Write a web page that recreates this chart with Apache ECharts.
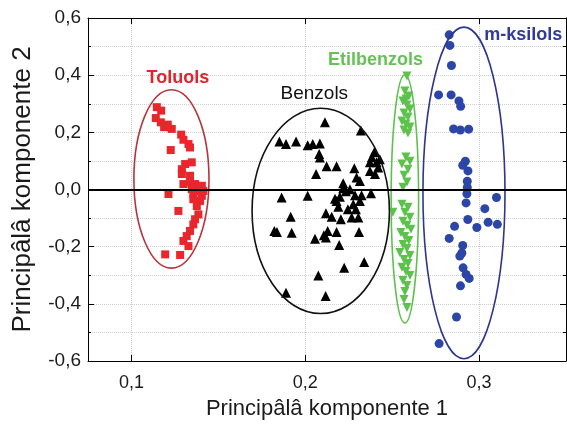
<!DOCTYPE html>
<html>
<head>
<meta charset="utf-8">
<script src="https://cdn.jsdelivr.net/npm/echarts@6/dist/echarts.min.js"></script>
<style>
html,body{margin:0;padding:0;background:#fff;}
#chart{width:567px;height:426px;}
</style>
</head>
<body>
<div id="chart"></div>
<script>
// ---- data ----
const xTicks = [0.1, 0.2, 0.3];
const toluols = [
  [0.1146,0.288],[0.1171,0.276],[0.1140,0.250],[0.1169,0.235],[0.1188,0.218],[0.1209,0.227],
  [0.1232,0.212],[0.1286,0.192],[0.1299,0.174],[0.1328,0.159],[0.1226,0.138],[0.1337,0.147],
  [0.1309,0.089],[0.1347,0.095],[0.1290,0.071],[0.1290,0.054],[0.1337,0.048],[0.1299,0.019],
  [0.1337,0.025],[0.1366,0.019],[0.1405,0.013],[0.1347,0.001],[0.1376,-0.005],[0.1414,-0.005],
  [0.1356,-0.016],[0.1405,-0.022],[0.1356,-0.034],[0.1395,-0.040],[0.1213,-0.016],[0.1376,-0.058],
  [0.1270,-0.075],[0.1385,-0.087],[0.1366,-0.104],[0.1356,-0.122],[0.1337,-0.145],[0.1318,-0.163],
  [0.1299,-0.180],[0.1328,-0.198],[0.1194,-0.227],[0.1280,-0.229]
];
const benzols = [
  [0.2113,0.235],[0.2320,0.206],[0.1851,0.168],[0.1889,0.159],[0.1947,0.168],[0.2014,0.155],
  [0.2043,0.159],[0.2084,0.161],[0.2080,0.124],[0.2084,0.112],[0.2397,0.130],[0.2372,0.095],
  [0.2410,0.095],[0.2372,0.065],[0.2420,0.077],[0.2401,0.054],[0.2429,0.106],[0.2383,0.113],
  [0.2123,0.081],[0.2180,0.081],[0.2282,0.074],[0.2062,0.054],[0.2295,0.042],[0.2314,0.030],
  [0.2218,0.022],[0.2218,0.004],[0.2257,0.001],[0.2234,-0.006],[0.1864,-0.028],[0.2014,-0.022],
  [0.2171,-0.032],[0.2199,-0.025],[0.2286,-0.020],[0.2324,-0.020],[0.2378,-0.013],[0.2180,-0.040],
  [0.2276,-0.052],[0.2314,-0.040],[0.2190,-0.060],[0.2245,-0.069],[0.2291,-0.069],[0.2119,-0.083],
  [0.2152,-0.095],[0.2205,-0.104],[0.2267,-0.098],[0.2305,-0.098],[0.1916,-0.095],[0.1822,-0.145],
  [0.1837,-0.149],[0.1922,-0.151],[0.2129,-0.145],[0.2180,-0.149],[0.2309,-0.149],[0.2056,-0.172],
  [0.2119,-0.168],[0.2107,-0.160],[0.2195,-0.194],[0.2339,-0.254],[0.2224,-0.274],[0.2075,-0.301],
  [0.1889,-0.361],[0.2117,-0.373]
];
const etilbenzols = [
  [0.2585,0.397],[0.2573,0.345],[0.2596,0.327],[0.2579,0.317],[0.2562,0.310],[0.2585,0.296],
  [0.2602,0.282],[0.2568,0.268],[0.2591,0.254],[0.2556,0.240],[0.2579,0.229],[0.2602,0.219],
  [0.2568,0.208],[0.2591,0.198],
  [0.2579,0.114],[0.2602,0.099],[0.2556,0.089],[0.2591,0.071],[0.2568,0.050],[0.2585,0.026],[0.2562,0.008],
  [0.2504,-0.080],[0.2556,-0.052],[0.2591,-0.062],[0.2573,-0.080],[0.2602,-0.097],[0.2562,-0.111],
  [0.2585,-0.125],[0.2608,-0.139],[0.2550,-0.150],[0.2573,-0.164],[0.2596,-0.178],[0.2562,-0.192],
  [0.2585,-0.206],[0.2544,-0.220],[0.2602,-0.231],[0.2568,-0.245],[0.2591,-0.259],[0.2556,-0.272],
  [0.2579,-0.286],[0.2602,-0.301],[0.2562,-0.318],[0.2585,-0.336],[0.2573,-0.357],[0.2568,-0.385],
  [0.2585,-0.413]
];
const mksilols = [
  [0.2828,0.541],[0.2832,0.504],[0.2841,0.434],[0.2767,0.331],[0.2839,0.331],[0.2884,0.310],
  [0.2894,0.291],[0.2853,0.212],[0.2892,0.208],[0.2940,0.211],[0.2921,0.099],[0.2906,0.085],
  [0.2936,0.065],[0.2932,0.029],[0.2932,0.007],[0.2930,-0.015],[0.2925,-0.047],[0.3100,-0.028],
  [0.3033,-0.067],[0.2935,-0.105],[0.2859,-0.129],[0.2987,-0.133],[0.3052,-0.115],[0.3105,-0.122],
  [0.2828,-0.171],[0.2906,-0.196],[0.2901,-0.222],[0.2889,-0.233],[0.2908,-0.274],[0.2925,-0.297],
  [0.2943,-0.311],[0.2893,-0.337],[0.2870,-0.446],[0.2770,-0.539]
];
// ellipse: [cx, cy, rx, ry] in data units
const ellipses = [
  [0.1230, 0.037, 0.0216, 0.312],
  [0.2089, -0.075, 0.0395, 0.359],
  [0.2573, -0.033, 0.0079, 0.434],
  [0.2913, -0.012, 0.0236, 0.580]
];
const groupNames = ['Toluols', 'Benzols', 'Etilbenzols', 'm-ksilols'];
const labelAnchors = [[0.1267,0.391],[0.2052,0.336],[0.2404,0.454],[0.3254,0.541]];

// ---- styles ----
const FONT = '"Liberation Sans", Arial, Helvetica, sans-serif';
const markerColors = ['#e8262c', '#000000', '#5cc24c', '#2c46a8'];
const ellipseColors = ['#b8343c', '#111111', '#5cc24c', '#2e3590'];
const labelColors = ['#e0262c', '#111111', '#66c255', '#2f3c9e'];
const labelWeights = ['bold', 'normal', 'bold', 'bold'];
const labelSizes = [18, 19, 18, 18];

const fmt = v => v.toFixed(1).replace('.', ',');

const chart = echarts.init(document.getElementById('chart'), null, {renderer: 'canvas'});

const ellipseData = ellipses.map((e, i) => ({value: e, itemStyle: {color: ellipseColors[i]}}));
const labelData = labelAnchors.map((a, i) => ({value: a, name: groupNames[i]}));

chart.setOption({
  animation: false,
  backgroundColor: '#fff',
  grid: {left: 88, right: 1, top: 18, bottom: 65, containLabel: false},
  xAxis: [{
    type: 'value', min: 0.075, max: 0.35, position: 'bottom',
    name: 'Principâlâ komponente 1', nameLocation: 'middle', nameGap: 37,
    nameTextStyle: {fontFamily: FONT, fontSize: 22, color: '#1a1a1a'},
    axisLine: {show: true, onZero: false, lineStyle: {color: '#000', width: 1}},
    axisTick: {show: true, inside: true, length: 6, customValues: xTicks, lineStyle: {color: '#000'}},
    axisLabel: {customValues: xTicks, formatter: fmt, fontFamily: FONT, fontSize: 18, color: '#1a1a1a', margin: 13},
    splitLine: {show: true, lineStyle: {color: '#cfcfcf', type: 'dotted', width: 1}}
  }, {
    type: 'value', min: 0.075, max: 0.35, position: 'top',
    axisLine: {show: true, onZero: false, lineStyle: {color: '#000', width: 1}},
    axisTick: {show: true, inside: true, length: 6, customValues: xTicks, lineStyle: {color: '#000'}},
    axisLabel: {show: false},
    splitLine: {show: false}
  }],
  yAxis: [{
    type: 'value', min: -0.6, max: 0.6, interval: 0.2, position: 'left',
    name: 'Principâlâ komponente 2', nameLocation: 'middle', nameGap: 52, nameRotate: 90,
    nameTextStyle: {fontFamily: FONT, fontSize: 26, color: '#1a1a1a'},
    axisLine: {show: true, onZero: false, lineStyle: {color: '#000', width: 1}},
    axisTick: {show: true, inside: true, length: 6, lineStyle: {color: '#000'}},
    minorTick: {show: true, splitNumber: 2, length: 3, lineStyle: {color: '#000'}},
    axisLabel: {formatter: fmt, fontFamily: FONT, fontSize: 19, color: '#1a1a1a', margin: 7},
    splitLine: {show: true, lineStyle: {color: '#cfcfcf', type: 'dotted', width: 1}},
    minorSplitLine: {show: true, lineStyle: {color: '#cfcfcf', type: 'dotted', width: 1}}
  }, {
    type: 'value', min: -0.6, max: 0.6, interval: 0.2, position: 'right',
    axisLine: {show: true, onZero: false, lineStyle: {color: '#000', width: 1}},
    axisTick: {show: true, inside: true, length: 6, lineStyle: {color: '#000'}},
    minorTick: {show: true, splitNumber: 2, length: 3, lineStyle: {color: '#000'}},
    axisLabel: {show: false},
    splitLine: {show: false}
  }],
  series: [
    {
      type: 'scatter', name: groupNames[0], data: toluols, symbol: 'rect', symbolSize: 8,
      itemStyle: {color: markerColors[0], opacity: 1}, z: 3,
      markLine: {
        silent: true, symbol: 'none', animation: false,
        label: {show: false},
        lineStyle: {color: '#000', width: 2, type: 'solid'},
        data: [{yAxis: 0}]
      }
    },
    {type: 'scatter', name: groupNames[1], data: benzols, symbol: 'triangle', symbolSize: 10,
      itemStyle: {color: markerColors[1], opacity: 1}, z: 3},
    {type: 'scatter', name: groupNames[2], data: etilbenzols, symbol: 'triangle', symbolRotate: 180, symbolSize: 9,
      itemStyle: {color: markerColors[2], opacity: 1}, z: 3},
    {type: 'scatter', name: groupNames[3], data: mksilols, symbol: 'circle', symbolSize: 9,
      itemStyle: {color: markerColors[3], opacity: 1}, z: 3},
    {
      type: 'custom', name: 'ellipses', data: ellipseData, z: 4, silent: true,
      renderItem: function (params, api) {
        const c = api.coord([api.value(0), api.value(1)]);
        const s = api.size([api.value(2), api.value(3)]);
        return {
          type: 'ellipse',
          shape: {cx: c[0], cy: c[1], rx: s[0], ry: s[1]},
          style: {fill: 'none', stroke: ellipseColors[params.dataIndex], lineWidth: 1.6}
        };
      }
    },
    {
      type: 'custom', name: 'labels', data: labelData, z: 5, silent: true,
      renderItem: function (params, api) {
        const c = api.coord([api.value(0), api.value(1)]);
        const i = params.dataIndex;
        return {
          type: 'text',
          style: {
            x: c[0], y: c[1], text: groupNames[i], align: 'center', verticalAlign: 'middle',
            fill: labelColors[i], fontFamily: FONT, fontSize: labelSizes[i], fontWeight: labelWeights[i]
          }
        };
      }
    }
  ]
});
</script>
</body>
</html>
